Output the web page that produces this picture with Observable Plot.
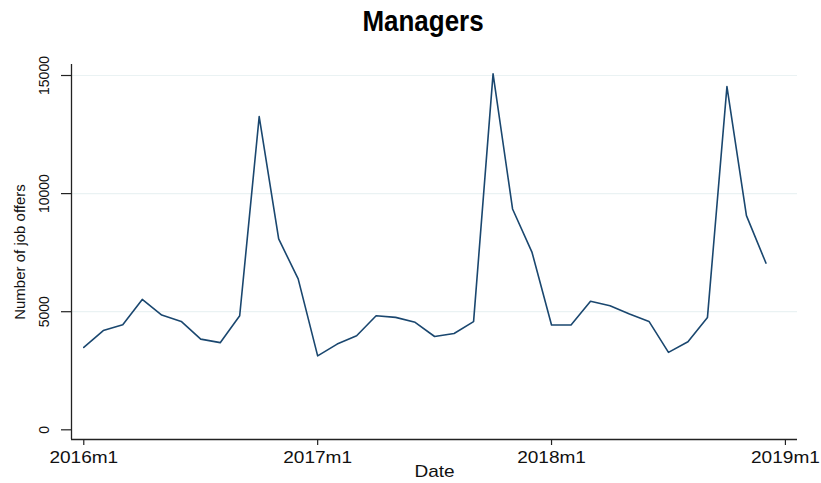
<!DOCTYPE html>
<html>
<head>
<meta charset="utf-8">
<script src="https://cdn.jsdelivr.net/npm/d3@7"></script>
<script src="https://cdn.jsdelivr.net/npm/@observablehq/plot@0.6"></script>
<style>
  html, body { margin: 0; padding: 0; background: #fff; }
  #wrap { position: relative; width: 821px; height: 483px; overflow: hidden; background: #fff; }
  #title { position: absolute; left: 26px; right: 0; top: 6px; text-align: center;
           font-family: "Liberation Sans", Arial, sans-serif; font-weight: bold;
           font-size: 30px; line-height: 30px; color: #000; }
  #title span { display: inline-block; transform: scaleX(0.865); }
  #chart { position: absolute; left: 0; top: 45px; }
</style>
</head>
<body>
<div id="wrap">
  <div id="title"><span>Managers</span></div>
  <div id="chart"></div>
</div>
<script>
// Monthly values, 2016m1 .. 2018m12
const values2016 = [3490, 4200, 4450, 5520, 4860, 4590, 3840, 3690, 4830, 13260, 8080, 6390];
const values2017 = [3130, 3630, 3980, 4830, 4760, 4550, 3950, 4080, 4580, 15070, 9350, 7510];
const values2018 = [4440, 4440, 5440, 5250, 4900, 4590, 3280, 3730, 4760, 14530, 9070, 7060];
const xTickValues = [0, 12, 24, 36];          // month index since 2016m1
const xTickLabels = ["2016m1", "2017m1", "2018m1", "2019m1"];
const yTicks = [0, 5000, 10000, 15000];
const xTitle = "Date";
const yTitle = "Number of job offers";

const values = [...values2016, ...values2017, ...values2018];
const data = values.map((v, i) => ({i, v}));

const xDomain = [-0.63, 36.62];
const yDomain = [-410, 15466];

const plot = Plot.plot({
  width: 821,
  height: 438,
  marginLeft: 71,
  marginRight: 24,
  marginTop: 19,
  marginBottom: 44,
  x: {type: "linear", domain: xDomain},
  y: {type: "linear", domain: yDomain},
  style: {background: "#fff", color: "#222", fontFamily: "'Liberation Sans', Arial, sans-serif"},
  marks: [
    Plot.ruleY(yTicks.filter(d => d > 0), {stroke: "#eaf2f3", strokeWidth: 1.2}),
    Plot.line(data, {x: "i", y: "v", stroke: "#1a476f", strokeWidth: 1.6}),
    Plot.ruleX([xDomain[0]], {stroke: "#222", strokeWidth: 1.3}),
    Plot.ruleY([yDomain[0]], {stroke: "#222", strokeWidth: 1.3}),
    Plot.axisY({ticks: yTicks, tickSize: 10, tickFormat: () => "", label: null, strokeWidth: 1.2}),
    Plot.text(yTicks, {x: xDomain[0], y: d => d, text: d => String(d), rotate: -90,
      dx: -27, textAnchor: "middle", lineAnchor: "middle", fontSize: 14, fill: "#111"}),
    Plot.axisX({ticks: xTickValues, tickFormat: d => xTickLabels[xTickValues.indexOf(d)],
      tickSize: 6, tickPadding: 5, fontSize: 17, label: null, strokeWidth: 1.2, fill: "#111"}),
    Plot.text([xTitle], {frameAnchor: "bottom", dy: 32, lineAnchor: "middle", fontSize: 17,
      fill: "#111", className: "stretch"}),
    Plot.text([yTitle], {frameAnchor: "left", dx: -51, rotate: -90, lineAnchor: "middle",
      textAnchor: "middle", fontSize: 15, fill: "#111"})
  ]
});
document.getElementById("chart").appendChild(plot);

// Widen horizontal labels slightly to match the reference's wide sans-serif face
const stretch = 1.12;
plot.querySelectorAll('g[aria-label="x-axis tick label"] text, g.stretch text, .stretch text').forEach(t => {
  const len = t.getComputedTextLength();
  if (len > 0) {
    t.setAttribute("textLength", (len * stretch).toFixed(1));
    t.setAttribute("lengthAdjust", "spacingAndGlyphs");
  }
});
</script>
</body>
</html>
